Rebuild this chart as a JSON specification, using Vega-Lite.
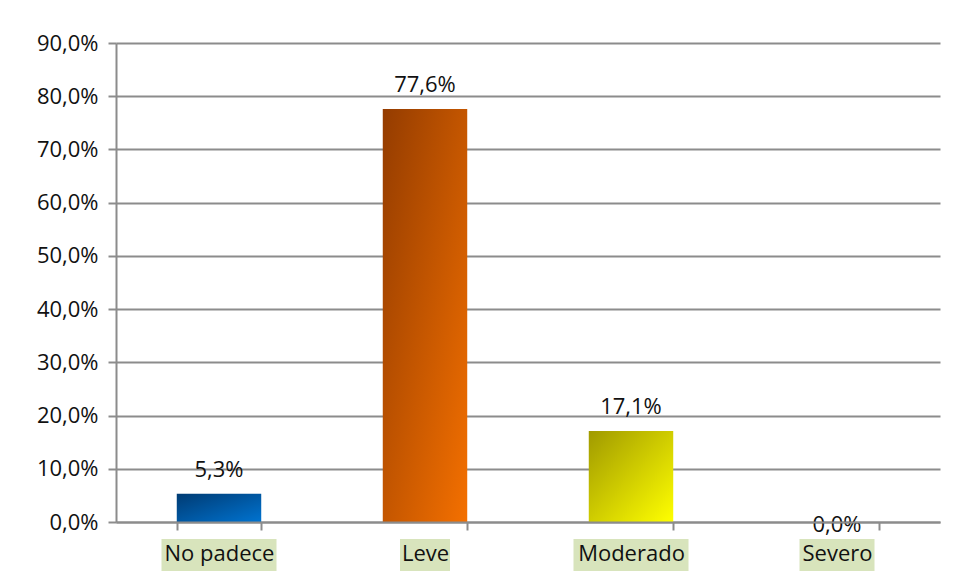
{
  "$schema": "https://vega.github.io/schema/vega-lite/v6.json",
  "width": 824,
  "height": 479,
  "autosize": "none",
  "padding": {"left": 116, "top": 43, "right": 13, "bottom": 58},
  "background": "white",
  "config": {
    "locale": {"number": {"decimal": ",", "thousands": ".", "grouping": [3], "currency": ["", " €"]}},
    "view": {"stroke": null},
    "font": "Open Sans"
  },
  "data": {"values": [
    {"cat": "No padece", "pct": 0.053},
    {"cat": "Leve", "pct": 0.776},
    {"cat": "Moderado", "pct": 0.171},
    {"cat": "Severo", "pct": 0.0}
  ]},
  "encoding": {
    "x": {
      "field": "cat", "type": "nominal",
      "sort": ["No padece", "Leve", "Moderado", "Severo"],
      "scale": {"paddingInner": 0.59, "paddingOuter": 0.295},
      "axis": {
        "title": null, "labelAngle": 0, "zindex": 1,
        "tickBand": "extent", "tickSize": 8, "tickColor": "#8c8c8c", "tickWidth": 2,
        "domainColor": "#8c8c8c", "domainWidth": 2,
        "labelFontSize": 22, "labelColor": "#111111", "labelPadding": 13, "labelFont": "Open Sans"
      }
    }
  },
  "layer": [
    {
      "mark": {"type": "bar", "color": "#d8e4bc"},
      "encoding": {
        "y": {"datum": -0.0319, "type": "quantitative", "scale": {"domain": [0, 0.9]}},
        "y2": {"datum": -0.0921},
        "size": {"field": "cat", "type": "nominal", "legend": null,
          "scale": {"type": "ordinal", "domain": ["No padece", "Leve", "Moderado", "Severo"], "range": [115, 50, 115, 75]}}
      }
    },
    {
      "mark": {"type": "bar"},
      "encoding": {
        "y": {
          "field": "pct", "type": "quantitative",
          "scale": {"domain": [0, 0.9]},
          "axis": {
            "title": null, "format": ".1%", "values": [0, 0.1, 0.2, 0.3, 0.4, 0.5, 0.6, 0.7, 0.8, 0.9],
            "grid": true, "gridColor": "#8c8c8c", "gridWidth": 2, "tickColor": "#8c8c8c", "tickWidth": 2, "tickSize": 8,
            "domainColor": "#8c8c8c", "domainWidth": 2,
            "labelFontSize": 22, "labelColor": "#111111", "labelPadding": 10, "labelFont": "Open Sans"
          }
        },
        "fill": {
          "condition": [
            {"test": "datum.cat === 'No padece'", "value": {"gradient": "linear", "x1": 0, "y1": 0, "x2": 1, "y2": 1, "stops": [{"offset": 0, "color": "#003b73"}, {"offset": 1, "color": "#0073d0"}]}},
            {"test": "datum.cat === 'Leve'", "value": {"gradient": "linear", "x1": 0, "y1": 0, "x2": 1, "y2": 1, "stops": [{"offset": 0, "color": "#943c00"}, {"offset": 1, "color": "#f47000"}]}},
            {"test": "datum.cat === 'Moderado'", "value": {"gradient": "linear", "x1": 0, "y1": 0, "x2": 1, "y2": 1, "stops": [{"offset": 0, "color": "#a09a00"}, {"offset": 1, "color": "#ffff00"}]}}
          ],
          "value": "#cccccc"
        }
      }
    },
    {
      "transform": [{"filter": "datum.pct > 0"}],
      "mark": {"type": "text", "baseline": "middle", "dy": -24, "fontSize": 22, "color": "#111111", "font": "Open Sans"},
      "encoding": {
        "y": {"field": "pct", "type": "quantitative"},
        "text": {"field": "pct", "type": "quantitative", "format": ".1%"}
      }
    },
    {
      "transform": [{"filter": "datum.pct === 0"}],
      "mark": {"type": "text", "baseline": "middle", "dy": 3, "fontSize": 22, "color": "#111111", "font": "Open Sans"},
      "encoding": {
        "y": {"field": "pct", "type": "quantitative"},
        "text": {"field": "pct", "type": "quantitative", "format": ".1%"}
      }
    }
  ]
}
